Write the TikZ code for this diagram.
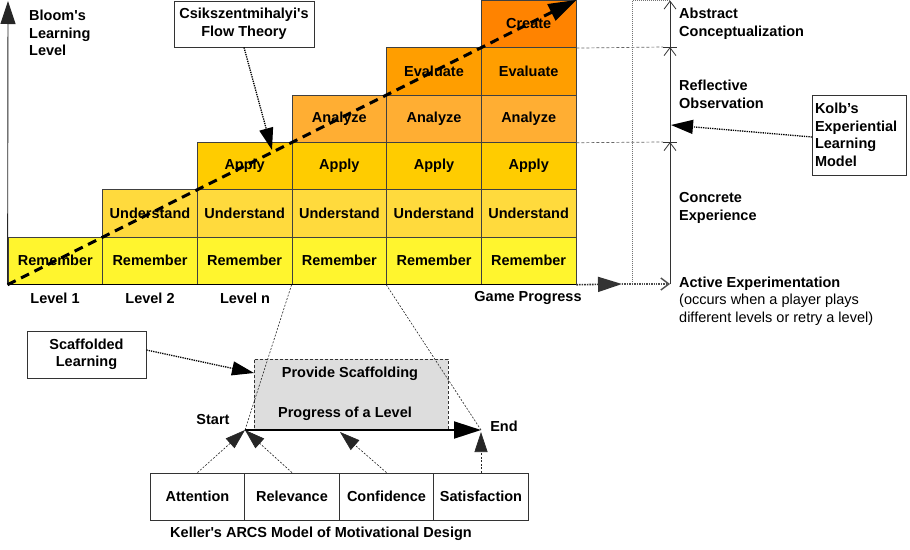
\documentclass[tikz,border=0pt]{standalone}
\usepackage{fontspec}
\setmainfont{Liberation Sans}[Ligatures=TeXOff]
\usetikzlibrary{arrows.meta}
\definecolor{cRem}{HTML}{FFF52E}
\definecolor{cUnd}{HTML}{FFDA3D}
\definecolor{cApp}{HTML}{FFCC00}
\definecolor{cAna}{HTML}{FFAE33}
\definecolor{cEva}{HTML}{FF9E00}
\definecolor{cCre}{HTML}{FF8300}
\definecolor{grayfill}{HTML}{DDDDDD}
\begin{document}
\begin{tikzpicture}[x=1pt,y=-1pt,
  every node/.style={font=\fontsize{14.5}{17.5}\selectfont\bfseries, inner sep=0pt},
  cell/.style={draw=black!75, line width=0.8pt, minimum width=94.667pt, minimum height=47.333pt},
  box/.style={draw=black!80, line width=0.8pt, fill=white},
  arcs/.style={draw=black!80, line width=0.8pt, minimum width=94.5pt, minimum height=47pt},
  dotarrow/.style={densely dotted, line width=1.3pt, -{Triangle[length=22pt,width=14pt]}},
  finearrow/.style={dash pattern=on 2pt off 1.5pt, line width=0.6pt, black!85, -{Triangle[length=20pt,width=13pt]}},
  fineline/.style={dash pattern=on 2pt off 1.5pt, line width=0.6pt, black!85},
  guide/.style={dash pattern=on 3pt off 2pt, line width=0.7pt, black!60},
  barb/.style={line width=0.8pt, black!80, -{Straight Barb[length=8pt,width=12pt]}},
  flowline/.style={line width=3pt, dash pattern=on 9pt off 6pt, -{Triangle[length=28pt,width=18pt]}}
]
\useasboundingbox (0,0) rectangle (910,549);

% grid of Bloom levels
\foreach \ci in {0,...,5}{
  \foreach \ri/\lab/\col in {0/Remember/cRem,1/Understand/cUnd,2/Apply/cApp,3/Analyze/cAna,4/Evaluate/cEva,5/Create/cCre}{
    \ifnum\ri>\ci\relax\else
      \node[cell, fill=\col] (c\ci\ri) at ({55.333+94.667*\ci},{260.667-47.333*\ri}) {\lab};
    \fi
  }
}

% axes
\draw[line width=0.9pt, black!85, -{Triangle[length=23pt,width=15pt]}] (c00.south west) -- (8,1);
\draw[line width=1pt] (c00.south west) -- (c50.south east);
\coordinate (xend) at (622,284);
\draw[densely dotted, line width=1.6pt, black!80, -{Triangle[length=24pt,width=15pt]}] (c50.south east) -- (xend);

% Bloom label
\node[anchor=west, align=left] (bloom) at (29,33) {Bloom's\\Learning\\Level};

% level labels
\node (l1) at (55,298) {Level 1};
\node (l2) at (150,298) {Level 2};
\node (ln) at (245,298) {Level n};
\node (gp) at (528,298) {Game Progress};

% Flow line
\draw[flowline] (c00.south west) -- (c55.north east);

% Csikszentmihalyi box
\node[box, minimum width=140pt, minimum height=46pt, align=center] (csik) at (244,24) {Csikszentmihalyi's\\Flow Theory};
\coordinate (flowpt) at (272,150);
\draw[dotarrow] (csik.south) -- (flowpt);

% Kolb cycle
\coordinate (kAE) at (670,284);
\coordinate (kCE) at (670,142);
\coordinate (kRO) at (670,47);
\coordinate (kAC) at (670,0.5);
\draw[barb] (kAE) -- (kCE);
\draw[barb] (kCE) -- (kRO);
\draw[barb] (kRO) -- (kAC);
\draw[line width=0.8pt, black!80] (663,142) -- (677,142);
\draw[line width=0.8pt, black!80] (663,47) -- (677,47);
\draw[guide] (c55.south east) -- (663,47);
\draw[guide] (c53.south east) -- (663,142);
\draw[densely dotted, line width=1pt, black!55] (kAC) -- (632,0.5) -- (632,284);
\draw[densely dotted, line width=1.4pt, black!70] (xend) -- (632,284);
\draw[densely dotted, line width=1.4pt, black!70, -{Straight Barb[length=8pt,width=12pt]}] (632,284) -- (kAE);

\node[anchor=west, align=left] (ac) at (679,24) {Abstract\\Conceptualization};
\node[anchor=west, align=left] (ro) at (679,94.5) {Reflective\\Observation};
\node[anchor=west, align=left] (ce) at (679,208) {Concrete\\Experience};
\node[anchor=west, align=left] (ae) at (679,301) {Active Experimentation\\\mdseries(occurs when a player plays\\\mdseries different levels or retry a level)};

\node[box, minimum width=94pt, minimum height=80pt, text width=88pt, align=left] (kolb) at (859,135) {Kolb’s\\Experiential\\Learning\\Model};
\coordinate (kolbpt) at (671,125);
\draw[dotarrow] (812,137) -- (kolbpt);

% level progress
\node[draw=black!80, densely dashed, line width=0.7pt, fill=grayfill, minimum width=194pt, minimum height=71pt] (scafbox) at (351,394.5) {};
\node (ps) at (350,374) {Provide Scaffolding};
\node (pl) at (345,414) {Progress of a Level};
\coordinate (start) at (245,430);
\coordinate (end) at (481,430);
\draw[fineline] (c30.south west) -- (start);
\draw[fineline] (c40.south west) -- (end);
\draw[line width=2pt, -{Triangle[length=27pt,width=17pt]}] (start) -- (end);
\node (st) at (213,420) {Start};
\node (en) at (504,426) {End};

% scaffolded learning
\node[box, minimum width=119pt, minimum height=47pt, align=center] (scaf) at (86.5,354.5) {Scaffolded\\Learning};
\coordinate (scafpt) at (254,373);
\draw[dotarrow] (scaf.east |- 0,350) -- (scafpt);

% ARCS
\node[arcs] (att) at (197.5,496.5) {Attention};
\node[arcs] (rel) at (292,496.5) {Relevance};
\node[arcs] (con) at (386.5,496.5) {Confidence};
\node[arcs] (sat) at (481,496.5) {Satisfaction};
\coordinate (conpt) at (340,432);
\coordinate (satpt) at (481,432);
\draw[finearrow] (att.north) -- (start);
\draw[finearrow] (rel.north) -- (start);
\draw[finearrow] (con.north) -- (conpt);
\draw[finearrow] (sat.north) -- (satpt);
\node (keller) at (321,534) {Keller's ARCS Model of Motivational Design};
\end{tikzpicture}
\end{document}
